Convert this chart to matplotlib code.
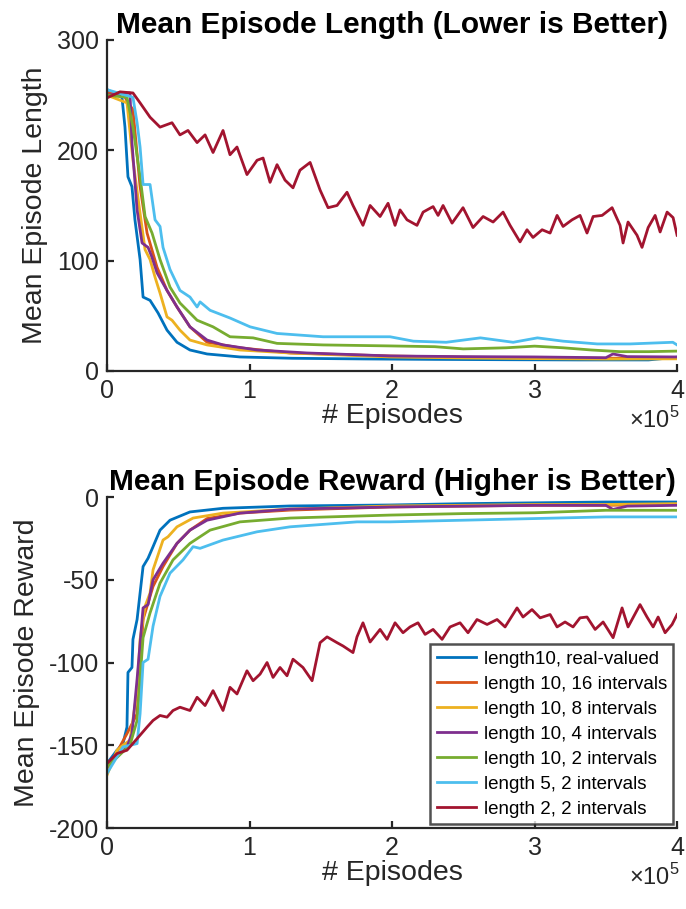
import numpy as np
import matplotlib.pyplot as plt

plt.rcParams['font.family'] = ['Liberation Sans', 'DejaVu Sans']
plt.rcParams['mathtext.fontset'] = 'custom'
plt.rcParams['mathtext.rm'] = 'Liberation Sans'
plt.rcParams['axes.unicode_minus'] = False

labels = ["length10, real-valued", "length 10, 16 intervals", "length 10, 8 intervals",
          "length 10, 4 intervals", "length 10, 2 intervals", "length 5, 2 intervals",
          "length 2, 2 intervals"]
colors = ['#0072BD', '#D95319', '#EDB120', '#7E2F8E', '#77AC30', '#4DBEEE', '#A2142F']

# episodes in thousands
# ---- mean episode length ----
blue_len_x = [0, 10.5, 12.6, 14.7, 17.5, 19.6, 23.2, 25.3, 30.2, 35.8, 42.1, 49.1, 58.2, 70.2, 93.3, 130, 180, 230, 280, 330, 380, 400]
blue_len = [255, 248, 221, 176, 167, 137, 101, 67, 64, 52.6, 37, 26, 19, 15.4, 12.7, 11.5, 10.9, 10.5, 10.2, 10, 10, 12.5]

orange_len_x = [0, 11.2, 14.7, 18.2, 23.2, 28.1, 35.1, 42.1, 49.1, 58.2, 70.2, 93.3, 128.4, 198.6, 250, 300, 350, 400]
orange_len = [252, 252, 243, 237, 167, 125, 94, 73, 58, 40, 26, 21, 16.3, 13.6, 12.5, 12, 11.5, 12]

yellow_len_x = [0, 14.0, 18.2, 23.2, 26.7, 30.2, 33.7, 37.2, 42.1, 45.6, 51.2, 58.2, 70.2, 93.3, 128.4, 198.6, 250, 300, 350, 400]
yellow_len = [250, 243, 191, 143, 110, 101, 85, 70.6, 49, 46, 37, 28, 23.6, 19, 16.3, 12.7, 11.8, 11.2, 10.8, 11]

purple_len_x = [0, 16.1, 17.5, 21.1, 24.6, 28.8, 31.6, 35.1, 42.1, 49.1, 58.2, 70.2, 81.4, 105.3, 140.4, 198.6, 250, 300, 350, 355, 365, 400]
purple_len = [250, 252, 207, 146, 116, 112, 103, 89, 73, 58, 40, 28, 23.6, 19, 16.3, 13.6, 13, 12.7, 12, 15.4, 13, 12.7]

green_len_x = [0, 14.0, 18.2, 23.2, 26.7, 31.6, 37.2, 44.2, 51.2, 63.2, 74.4, 86.3, 102.5, 119.3, 151.6, 198.6, 230, 250, 280, 300, 320, 340, 360, 380, 400]
green_len = [250, 248, 221, 176, 140, 125, 101, 76, 61.6, 46, 40, 31, 30, 25, 23.6, 22.7, 22, 20, 21, 22.5, 21, 19, 17.5, 17.5, 18]

lblue_len_x = [0, 18.2, 21.1, 23.2, 25.3, 30.2, 33.7, 37.2, 39.3, 44.2, 51.2, 58.2, 63.2, 65.3, 72.3, 86.3, 100.4, 119.3, 151.6, 198.6, 215, 238, 262, 285, 302, 320, 344, 367, 397, 400]
lblue_len = [255, 248, 225, 203, 169, 169, 137, 131, 112, 92, 73, 67, 58, 62.6, 55, 48, 40, 34, 31, 31, 27, 26, 30, 26, 30, 27, 24.5, 24.5, 26, 23.6]

red_len_x = [0, 9.1, 18.2, 23.2, 30.2, 37.2, 45.6, 51.2, 56.8, 63.2, 68.8, 74.4, 81.4, 86.3, 91.2, 98.2,
             105.3, 109.5, 114.4, 119.3, 124.9, 130.5, 135.4, 142.5, 149.5, 155.1, 161.4, 168.4, 172.6,
             179.6, 184.6, 191.6, 197.2, 202.1, 205.6, 210.5, 217.5, 221.8, 228.8, 232.3, 235.8, 242.1,
             249.8, 256.8, 263.9, 270.9, 277.9, 282.8, 289.8, 294.7, 298.9, 305.3, 310.9, 315.8, 320.0,
             326.3, 331.9, 336.8, 341.1, 347.4, 354.4, 360.0, 362.1, 365.6, 371.9, 375.4, 379.7, 384.6,
             388.1, 393.0, 397.2, 400]
red_len = [247.5, 253, 252, 243, 230, 221, 225, 214, 218, 207, 214, 198, 218, 196, 203, 178,
           191, 193, 171, 187, 173, 166, 182, 189, 164, 148, 150, 162, 150,
           132, 150, 140, 152, 132, 146, 137, 132, 144, 149, 141, 150, 134,
           148, 130, 140, 135, 144, 132, 117, 128, 121, 128, 125, 141, 131,
           137, 141, 125, 140, 141, 148, 132, 116, 135, 123, 112, 130, 141,
           126, 144, 139, 123]

# ---- mean episode reward ----
blue_rew_x = [0, 7.0, 11.2, 14.0, 14.7, 17.5, 18.2, 21.1, 23.2, 25.3, 28.8, 32.3, 37.2, 44.2, 58.2, 81.4, 128.4, 198.6, 250, 300, 350, 400]
blue_rew = [-161, -153, -149, -139, -106, -103, -86, -74, -58, -42, -37, -30, -20, -14, -9, -6.8, -5.4, -4.8, -4, -3.5, -3, -3]

orange_rew_x = [0, 14.0, 21.1, 25.3, 32.3, 39.3, 49.1, 58.2, 70.2, 93.3, 128.4, 198.6, 250, 300, 350, 400]
orange_rew = [-165, -143, -131, -74, -54, -42, -28, -20, -13, -9.7, -7.9, -6, -5.5, -5, -5, -4.5]

yellow_rew_x = [0, 7.0, 11.2, 16.1, 21.1, 23.2, 26.7, 30.2, 32.3, 39.3, 42.8, 49.1, 60.4, 81.4, 128.4, 198.6, 250, 300, 350, 400]
yellow_rew = [-168, -153, -150, -147, -117, -86, -66, -58, -44, -26, -24, -18, -12.7, -9.7, -7.3, -5.4, -5, -4.5, -4.5, -4]

purple_rew_x = [0, 14.0, 17.5, 21.1, 25.3, 28.8, 32.3, 39.3, 49.1, 58.2, 70.2, 93.3, 128.4, 198.6, 250, 300, 350, 355, 365, 400]
purple_rew = [-163, -151, -143, -110, -67, -65, -50, -40, -28, -20, -14, -9.7, -7.3, -6, -5.5, -5, -5, -7.5, -5.5, -5]

green_rew_x = [0, 16.1, 21.1, 25.3, 30.2, 37.2, 46.3, 58.2, 72.3, 93.3, 128.4, 198.6, 250, 300, 350, 400]
green_rew = [-163, -150, -135, -85, -70, -52, -38, -28, -20, -15, -12.7, -10.9, -10, -9.5, -8, -8]

lblue_rew_x = [0, 11.2, 21.1, 23.2, 25.3, 28.8, 32.3, 37.2, 44.2, 53.3, 60.4, 65.3, 81.4, 105.3, 128.4, 175.4, 198.6, 250, 300, 350, 400]
lblue_rew = [-167, -151, -149, -131, -100, -98, -78, -60, -46, -38, -30, -31, -26, -21, -18, -15, -15, -14, -13, -12, -12]

red_rew_x = [0, 7.0, 14.0, 21.1, 28.1, 32.3, 37.2, 42.1, 46.3, 51.2, 58.2, 63.2, 68.8, 74.4, 81.4, 86.3, 91.2,
             98.2, 102.5, 107.4, 112.3, 116.5, 121.4, 126.3, 130.5, 137.5, 143.9, 149.5, 154.4, 161.4, 165.6,
             172.6, 175.4, 179.6, 184.6, 191.6, 196.5, 202.1, 207.7, 212.6, 218.2, 223.2, 228.8, 235.1, 240.7,
             247.7, 253.3, 259.6, 266.7, 273.7, 279.3, 287.7, 291.9, 298.2, 303.9, 310.9, 315.8, 321.4, 327.0,
             331.9, 336.8, 342.5, 348.1, 355.1, 361.4, 365.6, 374.0, 378.9, 383.2, 386.7, 391.6, 396.5, 400]
red_rew = [-161, -155, -153, -146, -139, -135, -132, -133, -129, -127, -129, -121, -126, -117, -129, -115, -119,
           -105, -111, -107, -100, -109, -103, -108, -98, -103, -111, -88, -84.5, -88, -90,
           -94, -84.5, -76, -87.6, -80, -86, -76, -82, -78.5, -76, -83, -80, -86, -78.5,
           -76, -82, -74, -77, -74, -78.5, -67, -72.5, -68, -73, -71, -78.5, -75.5, -78.5,
           -73, -72.5, -80, -75.5, -85, -67, -78.5, -65, -72.5, -78.5, -72.5, -82, -77, -71]

len_series = [(blue_len_x, blue_len), (orange_len_x, orange_len), (yellow_len_x, yellow_len),
              (purple_len_x, purple_len), (green_len_x, green_len), (lblue_len_x, lblue_len),
              (red_len_x, red_len)]
rew_series = [(blue_rew_x, blue_rew), (orange_rew_x, orange_rew), (yellow_rew_x, yellow_rew),
              (purple_rew_x, purple_rew), (green_rew_x, green_rew), (lblue_rew_x, lblue_rew),
              (red_rew_x, red_rew)]

fig = plt.figure(figsize=(6.86, 9.09), dpi=100)
ax1 = fig.add_axes([0.156, 0.5919, 0.831, 0.3641])
ax2 = fig.add_axes([0.156, 0.0891, 0.831, 0.3641])

axc = '#262626'


def style(ax):
    for s in ['top', 'right']:
        ax.spines[s].set_visible(False)
    for s in ['left', 'bottom']:
        ax.spines[s].set_color(axc)
        ax.spines[s].set_linewidth(1.6)
    ax.tick_params(direction='in', length=5, width=1.6, colors=axc, labelsize=18, pad=6)
    ax.set_xlim(0, 4e5)
    ax.set_xticks([0, 1e5, 2e5, 3e5, 4e5])
    ax.set_xticklabels(['0', '1', '2', '3', '4'])
    ax.set_xlabel('# Episodes', fontsize=20.5, color=axc, labelpad=0)
    ax.text(1.005, -0.11, r'$\times10^{5}$', transform=ax.transAxes, ha='right', va='top',
            fontsize=17, color=axc)


for (x, y), c, lab in zip(len_series, colors, labels):
    ax1.plot(np.array(x) * 1000, y, color=c, lw=2, label=lab)
style(ax1)
ax1.set_ylim(0, 300)
ax1.set_yticks([0, 100, 200, 300])
ax1.set_ylabel('Mean Episode Length', fontsize=20.5, color=axc, labelpad=6)
ax1.set_title('Mean Episode Length (Lower is Better)', fontsize=21.5, fontweight='bold', pad=5)

for (x, y), c, lab in zip(rew_series, colors, labels):
    ax2.plot(np.array(x) * 1000, y, color=c, lw=2, label=lab)
style(ax2)
ax2.set_ylim(-200, 0)
ax2.set_yticks([-200, -150, -100, -50, 0])
ax2.set_ylabel('Mean Episode Reward', fontsize=20.5, color=axc, labelpad=6)
ax2.set_title('Mean Episode Reward (Higher is Better)', fontsize=21.5, fontweight='bold', pad=5)

leg = ax2.legend(loc='lower right', fontsize=13.5, frameon=True, fancybox=False,
                 borderaxespad=0.2, handlelength=2.1, handletextpad=0.4, labelspacing=0.42,
                 borderpad=0.35)
leg.get_frame().set_edgecolor(axc)
leg.get_frame().set_linewidth(1.8)

fig.savefig('out.png', dpi=100)
